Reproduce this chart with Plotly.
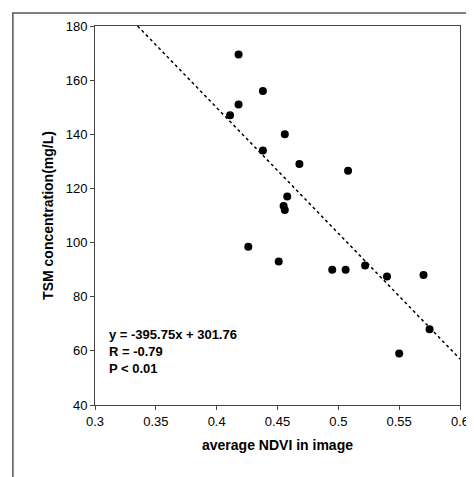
import plotly.graph_objects as go

ndvi = [0.418,0.411,0.418,0.438,0.438,0.456,0.468,0.458,0.455,0.456,0.426,0.451,0.495,0.506,0.508,0.522,0.540,0.570,0.575,0.550]
tsm  = [169.5,147,151,156,134,140,129,117,113.5,112,98.5,93,90,90,126.5,91.5,87.5,88,68,59]
trend_x = [0.335, 0.6]
trend_y = [180, 57]
x_ticks = [0.3,0.35,0.4,0.45,0.5,0.55,0.6]
x_labels = ["0.3","0.35","0.4","0.45","0.5","0.55","0.6"]

fig = go.Figure()
fig.add_trace(go.Scatter(x=trend_x, y=trend_y, mode="lines",
    line=dict(color="black", width=1.5, dash="dot"), hoverinfo="skip"))
fig.add_trace(go.Scatter(x=ndvi, y=tsm, mode="markers",
    marker=dict(color="black", size=8)))
fig.add_annotation(x=0.31, y=50, xref="x", yref="y", xanchor="left", yanchor="bottom",
    text="<b>y = -395.75x + 301.76<br>R = -0.79<br>P < 0.01</b>", align="left",
    showarrow=False, font=dict(size=13, color="black"))
fig.add_shape(type="rect", xref="paper", yref="paper", x0=-0.225, y0=-0.198, x1=1.049, y1=1.034,
    line=dict(color="#555", width=1.5))
ax = dict(showgrid=False, zeroline=False, showline=True, linecolor="#444", linewidth=1,
          mirror=True, ticks="outside", tickcolor="#444", ticklen=4, automargin=False,
          tickfont=dict(size=13, color="black"))
fig.update_layout(width=474, height=477, showlegend=False,
    margin=dict(l=87, r=22, t=18, b=80),
    plot_bgcolor="white", paper_bgcolor="white",
    font=dict(family="Liberation Sans, Arial", color="black"),
    xaxis=dict(range=[0.3,0.6], tickvals=x_ticks, ticktext=x_labels,
               title=dict(text="<b>average NDVI in image</b>", font=dict(size=14), standoff=12), **ax),
    yaxis=dict(range=[40,180], dtick=20,
               title=dict(text="<b>TSM concentration(mg/L)</b>", font=dict(size=14), standoff=8), **ax))
fig.write_html("out.html")
